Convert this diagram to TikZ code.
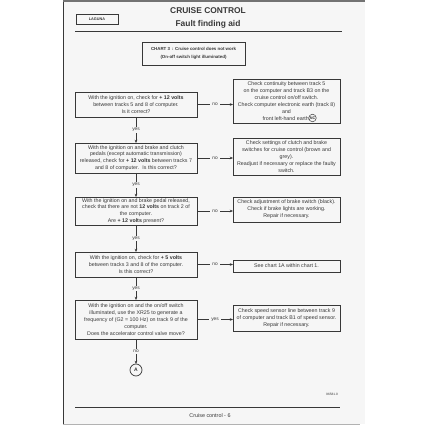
\documentclass[tikz,border=0pt]{standalone}
\usepackage{fontspec}
\setmainfont{Liberation Sans}
\usetikzlibrary{arrows.meta}
\definecolor{pagebg}{gray}{0.965}
\definecolor{ink}{gray}{0.22}
\begin{document}
\begin{tikzpicture}[x=1pt,y=1pt,
  every node/.style={inner sep=0pt, outer sep=0pt, text=ink},
  qbox/.style={draw=ink, line width=0.7pt, minimum width=122pt, align=center, font=\fontsize{5.3}{6.9}\selectfont},
  abox/.style={draw=ink, line width=0.7pt, minimum width=107pt, align=center, font=\fontsize{5.3}{6.9}\selectfont},
  conn/.style={draw=ink, line width=0.6pt, -{Stealth[length=3.2pt,width=2.6pt]}},
  lbl/.style={fill=pagebg, inner xsep=2.5pt, inner ysep=1pt, font=\fontsize{4.8}{5}\selectfont}
]
\useasboundingbox (0,0) rectangle (428,428);
\fill[white] (0,0) rectangle (428,428);
\fill[pagebg] (63,428) rectangle (365,4);
% page edges
\draw[ink, line width=1pt] (63,428) -- (63,4);
\draw[black!55, line width=1.2pt] (63,427) -- (365,427);
\draw[black!30, line width=0.8pt] (63,4) -- (360,4);
% header
\node[draw=ink, line width=0.6pt, minimum width=42pt, minimum height=10pt, font=\fontsize{3.8}{4}\selectfont\bfseries] (lag) at (97,409) {LAGUNA};
\node[font=\fontsize{8.4}{9}\selectfont\bfseries] (t1) at (208,417) {CRUISE CONTROL};
\node[font=\fontsize{8.4}{9}\selectfont\bfseries] (t2) at (208,404) {Fault finding aid};
\draw[ink, line width=0.9pt] (75,397) -- (342,397);
\node[draw=ink, line width=0.7pt, minimum width=103pt, minimum height=23pt, align=center, font=\fontsize{4.4}{7.5}\selectfont\bfseries] (chart) at (193.5,374.5) {CHART 3 \,: Cruise control does not work\\ (On-off switch light illuminated)};
% questions
\node[qbox, minimum height=25pt] (q1) at (136,323.5) {With the ignition on, check for \textbf{+ 12 volts}\\ between tracks 5 and 8 of computer.\\ Is it correct?};
\node[qbox, minimum height=30pt] (q2) at (136,270) {With the ignition on and brake and clutch\\ pedals (except automatic transmission)\\ released, check for \textbf{+ 12 volts} between tracks 7\\ and 8 of computer. \ Is this correct?};
\node[qbox, minimum height=28pt] (q3) at (136,217) {With the ignition on and brake pedal released,\\ check that there are not \textbf{12 volts} on track 2 of\\ the computer.\\ Are \textbf{+ 12 volts} present?};
\node[qbox, minimum height=25pt] (q4) at (136,163.5) {With the ignition on, check for \textbf{+ 5 volts}\\ between tracks 3 and 8 of the computer.\\ Is this correct?};
\node[qbox, minimum height=39pt] (q5) at (136,108.5) {With the ignition on and the on/off switch\\ illuminated, use the XR25 to generate a\\ frequency of (G2 = 100 Hz) on track 9 of the\\ computer.\\ Does the accelerator control valve move?};
% answers
\node[abox, minimum height=44pt] (a1) at (286.5,327) {Check continuity between track 5\\ on the computer and track B3 on the\\ cruise control on/off switch.\\ Check computer electronic earth (track 8)\\ and\\ front left-hand earth \hspace{10pt}};
\node[draw=ink, circle, line width=0.5pt, minimum size=7.5pt, font=\fontsize{3.8}{4}\selectfont\bfseries] (nc) at (312.5,310) {NC};
\node[abox, minimum height=37pt] (a2) at (286.5,271.5) {Check settings of clutch and brake\\ switches for cruise control (brown and\\ grey).\\ Readjust if necessary or replace the faulty\\ switch.};
\node[abox, minimum height=25pt] (a3) at (286.5,218.5) {Check adjustment of brake switch (black).\\ Check if brake lights are working.\\ Repair if necessary.};
\node[abox, minimum height=12pt] (a4) at (286.5,162) {See chart 1A within chart 1.};
\node[abox, minimum height=26pt] (a5) at (286.5,110) {Check speed sensor line between track 9\\ of computer and track B1 of speed sensor.\\ Repair if necessary.};
\node[draw=ink, circle, line width=0.7pt, minimum size=12pt, font=\fontsize{5}{5}\selectfont\bfseries] (A) at (136,58) {A};
% horizontal connectors
\foreach \i/\t in {1/no,2/no,3/no,4/no,5/yes}{
  \draw[conn] (q\i.east) -- node[lbl]{\t} (q\i.east -| a\i.west);
}
% vertical connectors
\draw[conn] (q1.south) -- node[lbl]{yes} (q2.north);
\draw[conn] (q2.south) -- node[lbl]{yes} (q3.north);
\draw[conn] (q3.south) -- node[lbl]{yes} (q4.north);
\draw[conn] (q4.south) -- node[lbl]{yes} (q5.north);
\draw[conn] (q5.south) -- node[lbl]{no} (A.north);
% footer
\node[font=\fontsize{3.2}{4}\selectfont] (ref) at (332,34) {96581.0};
\draw[ink, line width=0.9pt] (75,21) -- (340,21);
\node[font=\fontsize{5.4}{6}\selectfont] (foot) at (210,12) {Cruise control - 6};
\end{tikzpicture}
\end{document}
